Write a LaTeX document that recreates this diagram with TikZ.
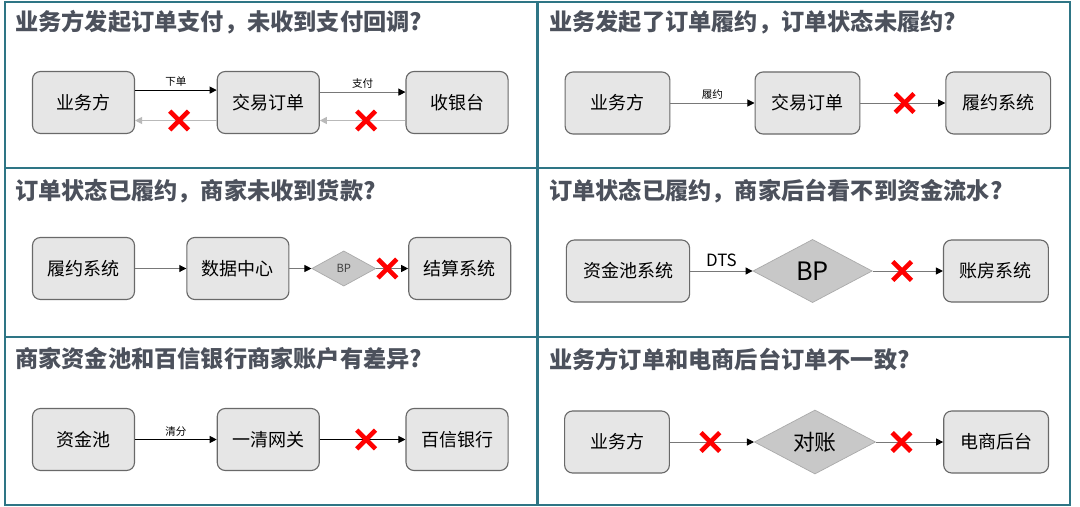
\documentclass[tikz,border=0pt]{standalone}
\usepackage{fontspec}
\setmainfont{Noto Sans CJK SC}
\usetikzlibrary{
  arrows.meta,
  positioning,
  shapes.geometric,
  shapes.misc
}
\definecolor{PanelTeal}{RGB}{46,117,133}
\definecolor{TitleGray}{RGB}{76,81,92}
\definecolor{BoxFill}{RGB}{230,230,230}
\definecolor{BoxLine}{RGB}{105,105,105}
\definecolor{DiamondFill}{RGB}{200,200,200}
\definecolor{LinkGray}{RGB}{120,120,120}
\definecolor{FadeGray}{RGB}{185,185,185}
\definecolor{CrossRed}{RGB}{255,0,0}
\tikzset{
  panel/.style={draw=PanelTeal,line width=1.1pt},
  paneltitle/.style={anchor=west,inner sep=0pt,text=TitleGray,font=\bfseries\fontsize{16.5}{18}\selectfont},
  sysbox/.style={draw=BoxLine,fill=BoxFill,rounded corners=2mm,minimum width=2.55cm,minimum height=1.55cm,align=center,line width=0.8pt,font=\fontsize{12.8}{14}\selectfont},
  checkpt/.style={diamond,draw=DiamondFill!85!black,fill=DiamondFill,inner sep=0pt,line width=0.5pt},
  link/.style={-{Triangle[length=5pt,width=5pt,color=black]},draw=LinkGray,line width=0.7pt},
  darklink/.style={-{Triangle[length=5pt,width=5pt]},draw=black,line width=0.7pt},
  fadelink/.style={-{Triangle[length=5pt,width=5pt]},draw=FadeGray,line width=0.7pt},
  xmark/.style={cross out,draw=CrossRed,line width=3.3pt,minimum size=10pt,inner sep=0pt},
  lbl/.style={font=\fontsize{7.5}{9}\selectfont,inner sep=2pt}
}

\begin{document}
\begin{tikzpicture}[x=0.025cm,y=-0.025cm]
\useasboundingbox[fill=white] (0,0) rectangle (1080,507);

% frames
\draw[panel] (5,2) rectangle (537,168);
\draw[panel] (538,2) rectangle (1070,168);
\draw[panel] (5,168) rectangle (537,337);
\draw[panel] (538,168) rectangle (1070,337);
\draw[panel] (5,337) rectangle (537,505);
\draw[panel] (538,337) rectangle (1070,505);

% payment callback
\node[paneltitle] (t1) at (15,22) {业务方发起订单支付，未收到支付回调?};
\node[sysbox] (p1a) at (83.5,102.5) {业务方};
\node[sysbox, right=2.04cm of p1a] (p1b) {交易订单};
\node[sysbox, right=2.14cm of p1b] (p1c) {收银台};
\draw[darklink] ([yshift=3.1mm]p1a.east) -- node[above,lbl]{下单} ([yshift=3.1mm]p1b.west);
\draw[link] ([yshift=2.6mm]p1b.east) -- node[above,lbl]{支付} ([yshift=2.6mm]p1c.west);
\draw[fadelink] ([yshift=-4.5mm]p1b.west) -- node[pos=0.46,xmark]{} ([yshift=-4.5mm]p1a.east);
\draw[fadelink] ([yshift=-4.5mm]p1c.west) -- node[pos=0.46,xmark]{} ([yshift=-4.5mm]p1b.east);

% fulfilment status
\node[paneltitle] (t2) at (549,22) {业务发起了订单履约，订单状态未履约?};
\node[sysbox, minimum width=2.62cm] (q1a) at (617.5,103) {业务方};
\node[sysbox, minimum width=2.62cm, right=2.1cm of q1a] (q1b) {交易订单};
\node[sysbox, minimum width=2.62cm, right=2.12cm of q1b] (q1c) {履约系统};
\draw[link] (q1a) -- node[above,lbl]{履约} (q1b);
\draw[link] (q1b) -- node[pos=0.52,xmark]{} (q1c);

% merchant not paid
\node[paneltitle] (t3) at (15,191) {订单状态已履约，商家未收到货款?};
\node[sysbox] (p2a) at (83.5,268.5) {履约系统};
\node[sysbox, right=1.28cm of p2a] (p2b) {数据中心};
\node[checkpt, minimum width=1.6cm, minimum height=0.88cm, right=0.55cm of p2b, font=\fontsize{8}{9}\selectfont, text=black!75] (p2bp) {BP};
\node[sysbox, right=0.8cm of p2bp] (p2c) {结算系统};
\draw[link] (p2a) -- (p2b);
\draw[link] (p2b) -- (p2bp);
\draw[link] (p2bp) -- node[pos=0.35,xmark]{} (p2c);

% fund flow missing
\node[paneltitle] (t4) at (549,191) {订单状态已履约，商家后台看不到资金流水?};
\node[sysbox, minimum width=3.08cm] (q2a) at (628,271) {资金池系统};
\node[checkpt, minimum width=2.98cm, minimum height=1.58cm, right=1.56cm of q2a, font=\fontsize{18}{20}\selectfont] (q2bp) {BP};
\node[sysbox, minimum width=2.62cm, right=1.76cm of q2bp] (q2c) {账房系统};
\draw[link] (q2a) -- node[above,inner sep=3pt,font=\fontsize{12}{14}\selectfont]{DTS} (q2bp);
\draw[link] (q2bp) -- node[pos=0.42,xmark]{} (q2c);

% bank account mismatch
\node[paneltitle] (t5) at (15,359) {商家资金池和百信银行商家账户有差异?};
\node[sysbox] (p3a) at (83.5,439.5) {资金池};
\node[sysbox, right=2.04cm of p3a] (p3b) {一清网关};
\node[sysbox, right=2.14cm of p3b] (p3c) {百信银行};
\draw[darklink] (p3a) -- node[above,lbl]{清分} (p3b);
\draw[darklink] (p3b) -- node[pos=0.54,xmark]{} (p3c);

% order inconsistency
\node[paneltitle] (t6) at (549,359) {业务方订单和电商后台订单不一致?};
\node[sysbox, minimum width=2.62cm] (q3a) at (617,442) {业务方};
\node[checkpt, minimum width=3.03cm, minimum height=1.6cm, right=2.1cm of q3a, font=\fontsize{15.5}{18}\selectfont] (q3bp) {对账};
\node[sysbox, minimum width=2.62cm, right=1.68cm of q3bp] (q3c) {电商后台};
\draw[link] (q3a) -- node[pos=0.48,xmark]{} (q3bp);
\draw[link] (q3bp) -- node[pos=0.38,xmark]{} (q3c);
\end{tikzpicture}
\end{document}
